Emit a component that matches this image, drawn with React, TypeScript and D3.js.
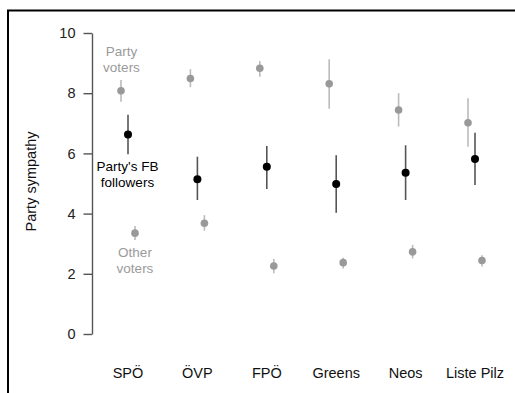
import React, { useEffect, useRef } from 'react';
import * as d3 from 'd3';

const parties = ['SPÖ', 'ÖVP', 'FPÖ', 'Greens', 'Neos', 'Liste Pilz'];
const yTicks = [0, 2, 4, 6, 8, 10];

// estimate, lower, upper
const partyVoters = [
  [8.08, 7.72, 8.44],
  [8.49, 8.2, 8.8],
  [8.83, 8.55, 9.07],
  [8.31, 7.48, 9.13],
  [7.44, 6.89, 8.0],
  [7.02, 6.22, 7.83],
];
const fbFollowers = [
  [6.63, 5.97, 7.28],
  [5.14, 4.45, 5.89],
  [5.56, 4.82, 6.25],
  [4.98, 4.03, 5.94],
  [5.36, 4.45, 6.27],
  [5.81, 4.95, 6.69],
];
const otherVoters = [
  [3.35, 3.12, 3.59],
  [3.68, 3.43, 3.95],
  [2.26, 2.02, 2.49],
  [2.37, 2.18, 2.53],
  [2.73, 2.51, 2.96],
  [2.44, 2.24, 2.62],
];

const FONT = 'Liberation Sans, Arial, sans-serif';

const App = () => {
  const svgRef = useRef<SVGSVGElement>(null);

  useEffect(() => {
    const width = 515;
    const height = 393;
    const svg = d3.select(svgRef.current);
    svg.selectAll('*').remove();

    // frame
    svg.append('line').attr('x1', 7).attr('x2', width).attr('y1', 10.5).attr('y2', 10.5)
      .attr('stroke', '#000').attr('stroke-width', 2);
    svg.append('line').attr('x1', 8).attr('x2', 8).attr('y1', 10).attr('y2', height)
      .attr('stroke', '#000').attr('stroke-width', 2);

    const x = d3.scalePoint<string>().domain(parties).range([128, 475]);
    const y = d3.scaleLinear().domain([0, 10]).range([334, 33]);

    // y axis
    const ax = svg.append('g').attr('transform', 'translate(92,0)')
      .call(d3.axisLeft(y).tickValues(yTicks).tickSize(8.5).tickPadding(8).tickSizeOuter(0));
    ax.select('.domain').attr('stroke', '#555').attr('stroke-width', 1.4);
    ax.selectAll('.tick line').attr('stroke', '#555').attr('stroke-width', 1.4);
    ax.selectAll('.tick text').attr('font-family', FONT).attr('font-size', 14.5).attr('fill', '#222');

    svg.append('text')
      .attr('transform', `translate(31,181.5) rotate(-90)`)
      .attr('text-anchor', 'middle').attr('dy', '0.35em')
      .attr('font-family', FONT).attr('font-size', 14.5).attr('fill', '#111')
      .text('Party sympathy');

    // x labels
    svg.append('g').selectAll('text').data(parties).join('text')
      .attr('x', d => x(d)!).attr('y', 373).attr('dy', '0.35em')
      .attr('text-anchor', 'middle').attr('font-family', FONT).attr('font-size', 14.5).attr('fill', '#111')
      .text(d => d);

    const series = [
      { data: partyVoters, off: -7, dot: '#999', line: '#bbb', r: 3.8 },
      { data: fbFollowers, off: 0, dot: '#000', line: '#555', r: 4 },
      { data: otherVoters, off: 7, dot: '#999', line: '#bbb', r: 3.8 },
    ];

    series.forEach(s => {
      const g = svg.append('g');
      g.selectAll('line').data(s.data).join('line')
        .attr('x1', (d, i) => x(parties[i])! + s.off)
        .attr('x2', (d, i) => x(parties[i])! + s.off)
        .attr('y1', d => y(d[1])).attr('y2', d => y(d[2]))
        .attr('stroke', s.line).attr('stroke-width', 1.6);
      g.selectAll('circle').data(s.data).join('circle')
        .attr('cx', (d, i) => x(parties[i])! + s.off)
        .attr('cy', d => y(d[0])).attr('r', s.r).attr('fill', s.dot);
    });

    // annotations
    const notes = [
      { lines: ['Party', 'voters'], cx: 121.5, ys: [51, 67], fill: '#9a9a9a' },
      { lines: ["Party's FB", 'followers'], cx: 127.5, ys: [166, 182], fill: '#000' },
      { lines: ['Other', 'voters'], cx: 135, ys: [252, 268], fill: '#9a9a9a' },
    ];
    notes.forEach(n => {
      n.lines.forEach((t, i) => {
        svg.append('text').attr('x', n.cx).attr('y', n.ys[i]).attr('dy', '0.35em')
          .attr('text-anchor', 'middle').attr('font-family', FONT).attr('font-size', 13.5)
          .attr('fill', n.fill).text(t);
      });
    });
  }, []);

  return (
    <div style={{ position: 'absolute', left: 0, top: 0 }}>
      <svg ref={svgRef} width={515} height={393} style={{ display: 'block', background: '#fff' }}></svg>
    </div>
  );
};

export default App;
